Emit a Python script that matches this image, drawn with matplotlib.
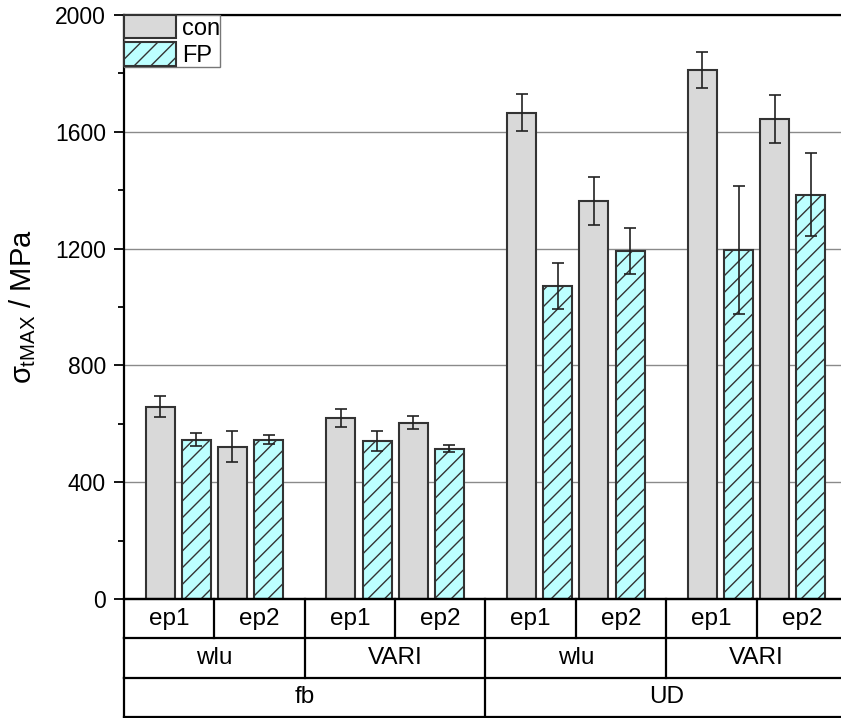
"""
Tensile strength of fb / UD laminates: con vs FP, grouped by process and resin.
"""

import numpy as np
import matplotlib
matplotlib.use("Agg")
import matplotlib.pyplot as plt
from matplotlib.ticker import MultipleLocator

plt.rcParams["font.family"] = ["Liberation Sans", "DejaVu Sans"]
plt.rcParams["mathtext.fontset"] = "custom"
plt.rcParams["mathtext.rm"] = "Liberation Sans"
plt.rcParams["mathtext.it"] = "Liberation Sans"
plt.rcParams["hatch.linewidth"] = 1.0
plt.rcParams["hatch.color"] = "black"

# ==========================================================
# DATA
# ==========================================================

fibres = ["fb", "UD"]
processes = ["wlu", "VARI"]
resins = ["ep1", "ep2"]

# order: fb-wlu-ep1, fb-wlu-ep2, fb-VARI-ep1, fb-VARI-ep2, UD-wlu-ep1, ...
con_mean = [658, 522, 621, 604, 1665, 1363, 1812, 1644]
con_err = [36, 54, 31, 22, 63, 82, 61, 82]
fp_mean = [546, 545, 540, 515, 1072, 1192, 1195, 1385]
fp_err = [22, 15, 34, 12, 80, 80, 219, 142]

# ==========================================================
# LAYOUT
# ==========================================================

W, H = 841, 718
fig = plt.figure(figsize=(W / 100, H / 100), dpi=100)

ax_left, ax_right = 124, 847
ax_top, ax_bot = 15, 599
tab_bot = 717

ax = fig.add_axes([ax_left / W, (H - ax_bot) / H,
                   (ax_right - ax_left) / W, (ax_bot - ax_top) / H])
tab = fig.add_axes([ax_left / W, (H - tab_bot) / H,
                    (ax_right - ax_left) / W, (tab_bot - ax_bot) / H],
                   sharex=ax)

# bar positions: pair k (fibre/process), resin j
n_groups = len(con_mean)
k_idx = np.arange(n_groups) // 2
j_idx = np.arange(n_groups) % 2
base = 5 * k_idx + 2 * j_idx

bar_w = 0.8
edge = "#333333"
err_kw = dict(ecolor="#222222", elinewidth=1.2, capsize=4, capthick=1.2)

ax.bar(base, con_mean, bar_w, yerr=con_err, color="#D9D9D9",
       edgecolor=edge, linewidth=1.5, label="con", error_kw=err_kw, zorder=2)
ax.bar(base + 1, fp_mean, bar_w, yerr=fp_err, color="#BDFFFF",
       edgecolor=edge, linewidth=1.5, hatch="//", label="FP",
       error_kw=err_kw, zorder=2)

ax.set_xlim(-1, 19)
ax.set_ylim(0, 2000)
ax.yaxis.set_major_locator(MultipleLocator(400))
ax.yaxis.set_minor_locator(MultipleLocator(200))
ax.tick_params(axis="y", which="major", direction="out", length=7, width=1.3,
               labelsize=16.5, pad=6)
ax.tick_params(axis="y", which="minor", direction="out", length=4, width=1.3)
ax.tick_params(axis="x", which="both", bottom=False, labelbottom=False)

ax.set_axisbelow(True)
ax.yaxis.grid(True, color="#8a8a8a", linewidth=1.0)

for s in ["left", "top", "bottom", "right"]:
    ax.spines[s].set_linewidth(1.6)
    ax.spines[s].set_color("black")

ax.set_ylabel(r"$\sigma_{\mathrm{tMAX}}$ / MPa", fontsize=21, labelpad=12)

leg = ax.legend(loc="upper left", bbox_to_anchor=(0, 1), borderaxespad=0,
                borderpad=0, handlelength=2.2, handleheight=1.15,
                labelspacing=0.1, handletextpad=0.25, fontsize=17,
                fancybox=False, framealpha=1, edgecolor="#777777")
leg.get_frame().set_linewidth(1.0)

# ==========================================================
# CATEGORY TABLE
# ==========================================================

tab.set_ylim(3, 0)
tab.axis("off")
line_kw = dict(color="black", linewidth=1.6, solid_capstyle="projecting",
               clip_on=False)

for y in [0, 1, 2, 3]:
    tab.plot([-1, 19], [y, y], **line_kw)

# row 1: resin cells
for m in range(9):
    x = -1 + 2.5 * m
    tab.plot([x, x], [0, 1], **line_kw)
for m in range(8):
    tab.text(-1 + 2.5 * m + 1.25, 0.5, resins[m % 2], ha="center",
             va="center", fontsize=17.5)

# row 2: process cells
for m in range(5):
    x = -1 + 5 * m
    tab.plot([x, x], [1, 2], **line_kw)
for m in range(4):
    tab.text(-1 + 5 * m + 2.5, 1.5, processes[m % 2], ha="center",
             va="center", fontsize=17.5)

# row 3: fibre cells
for m in range(3):
    x = -1 + 10 * m
    tab.plot([x, x], [2, 3], **line_kw)
for m in range(2):
    tab.text(-1 + 10 * m + 5, 2.5, fibres[m], ha="center",
             va="center", fontsize=17.5)

fig.savefig("out.png", dpi=100)
plt.close(fig)
